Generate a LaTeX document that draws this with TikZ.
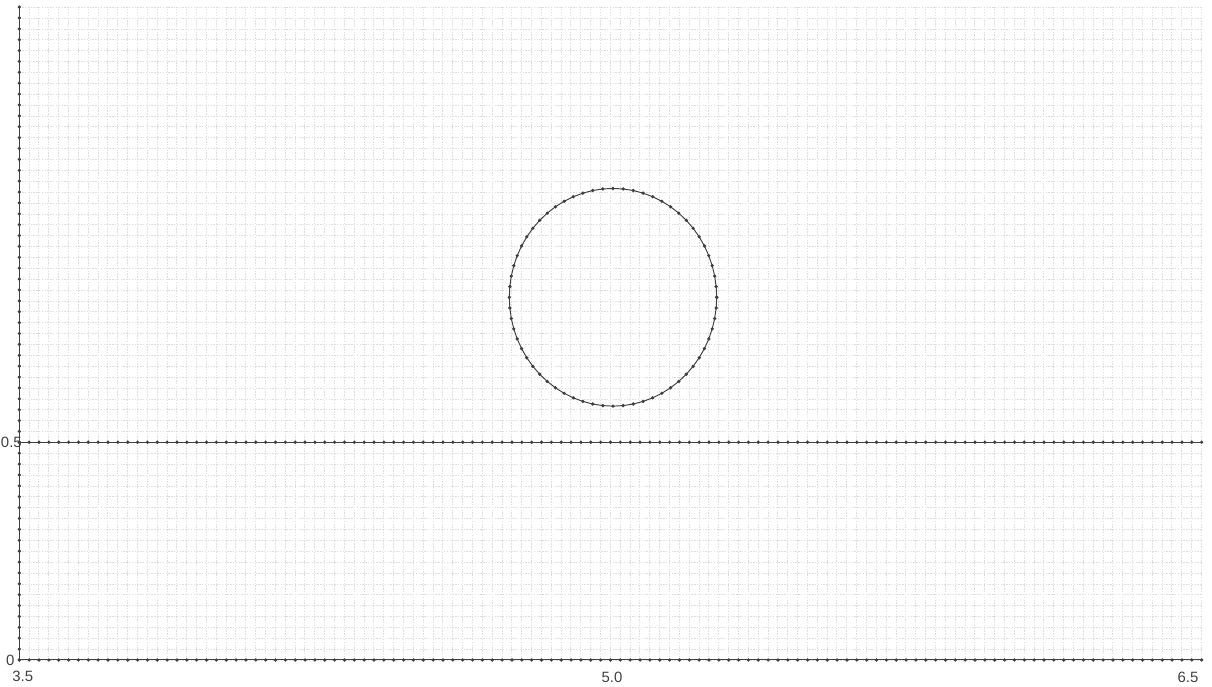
\documentclass[tikz,border=0pt]{standalone}
\usepackage{fontspec}
\setsansfont{Liberation Sans}
\begin{document}
\begin{tikzpicture}[x=7.884cm, y=8.708cm]
    % Estilos
    \tikzstyle{rejilla}=[black!13, line width=0.3pt, dash pattern=on 0.8pt off 0.8pt]
    \tikzstyle{eje}=[black!75, line width=0.55pt]
    \tikzstyle{puntos}=[mark=*, mark size=0.65pt, mark options={fill=black!75, draw=black!75}]
    \tikzstyle{etiqueta}=[font=\sffamily\fontsize{8.5}{9}\selectfont, text=black!75, inner sep=0pt]
    % Marco de la imagen
    \useasboundingbox (3.451,-0.062) rectangle (6.5256,1.5158);
    % Rejilla fina
    \draw[rejilla, step=0.025] (3.5,0) grid (6.5,1.5);
    % Ejes con sus marcas
    \draw[eje, puntos] plot[domain=0:1.5, samples=61] (3.5,\x);
    \draw[eje, puntos] plot[domain=3.5:6.5, samples=121] (\x,0);
    % Recta horizontal en 0.5
    \draw[eje, puntos] plot[domain=3.5:6.5, samples=121] (\x,0.5);
    % Circulo poligonal
    \draw[eje, puntos] plot[domain=0:360, samples=65] ({5.006+0.263*cos(\x)},{0.833+0.25*sin(\x)});
    % Etiquetas de los ejes
    \node[etiqueta, anchor=east] (ycero) at (3.4885,0) {0};
    \node[etiqueta, anchor=east] (ymedio) at (3.507,0.5) {0.5};
    \node[etiqueta] (xmin) at (3.5086,-0.0384) {3.5};
    \node[etiqueta] (xmed) at (5.0036,-0.0390) {5.0};
    \node[etiqueta] (xmax) at (6.4647,-0.0390) {6.5};
\end{tikzpicture}
\end{document}
